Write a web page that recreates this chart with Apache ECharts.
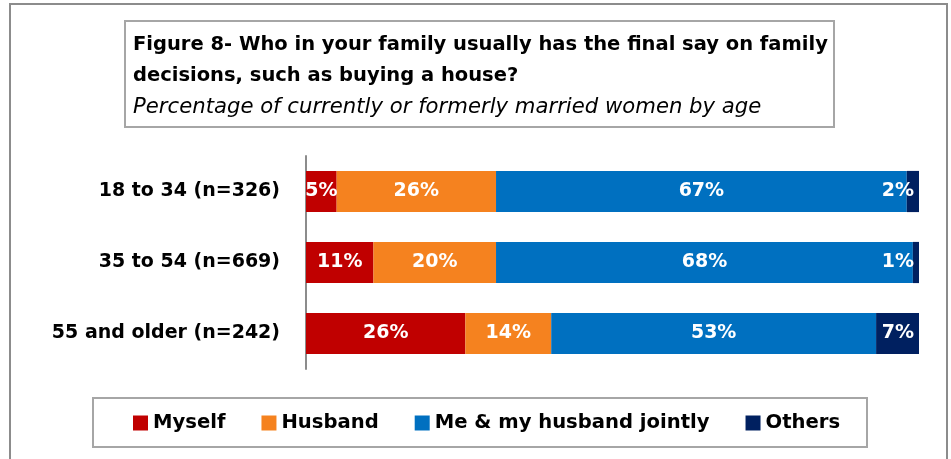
<!DOCTYPE html>
<html>
<head>
<meta charset="utf-8">
<script src="https://cdn.jsdelivr.net/npm/echarts@6/dist/echarts.min.js"></script>
<style>
  html, body { margin: 0; padding: 0; background: #fff; }
  #chart { width: 951px; height: 459px; }
</style>
</head>
<body>
<div id="chart"></div>
<script>
// age groups (top to bottom)
var categories = ["18 to 34 (n=326)", "35 to 54 (n=669)", "55 and older (n=242)"];
// share of answers, %
var myself = [5, 11, 26];
var husband = [26, 20, 14];
var jointly = [67, 68, 53];
var others = [2, 1, 7];
var seriesNames = ["Myself", "Husband", "Me & my husband jointly", "Others"];
var colorArr = ["#C00000", "#F5821F", "#0070C0", "#002060"];

var FONT = "'DejaVu Sans', sans-serif";

function makeSeries(name, data, color, pos) {
  return {
    name: name,
    type: "bar",
    stack: "total",
    barCategoryGap: "42%",
    data: data,
    itemStyle: { color: color },
    label: {
      show: true,
      position: pos || "inside",
      distance: 5,
      formatter: "{c}%",
      color: "#fff",
      fontFamily: FONT,
      fontWeight: "bold",
      fontSize: 19
    }
  };
}

var chart = echarts.init(document.getElementById("chart"));
var option = {
  animation: false,
  color: colorArr,
  graphic: [
    { type: "rect", z: -10, shape: { x: 10, y: 4, width: 937, height: 470 },
      style: { fill: "#fff", stroke: "#8c8c8c", lineWidth: 2 } },
    { type: "rect", z: -5, shape: { x: 125, y: 21, width: 709, height: 106 },
      style: { fill: "#fff", stroke: "#a6a6a6", lineWidth: 2 } },
    { type: "rect", z: -5, shape: { x: 93, y: 398, width: 774, height: 49 },
      style: { fill: "#fff", stroke: "#a6a6a6", lineWidth: 2 } }
  ],
  title: {
    text: "Figure 8- Who in your family usually has the final say on family\ndecisions, such as buying a house?",
    subtext: "Percentage of currently or formerly married women by age",
    left: 133,
    top: 29,
    padding: 0,
    itemGap: 1,
    textStyle: { fontFamily: FONT, fontWeight: "bold", fontSize: 19.5, color: "#000", lineHeight: 31 },
    subtextStyle: { fontFamily: FONT, fontStyle: "italic", fontSize: 21.2, color: "#000", lineHeight: 31 }
  },
  legend: {
    data: seriesNames,
    left: 128,
    top: 408,
    itemWidth: 15,
    itemHeight: 15,
    itemGap: 36,
    icon: "rect",
    textStyle: { fontFamily: FONT, fontWeight: "bold", fontSize: 19.6, color: "#000" }
  },
  grid: { left: 306, right: 32, top: 156, bottom: 90, containLabel: false },
  xAxis: { type: "value", min: 0, max: 100, show: false },
  yAxis: {
    type: "category",
    data: categories,
    inverse: true,
    axisLine: { lineStyle: { color: "#8c8c8c", width: 2 } },
    axisTick: { show: false },
    axisLabel: { margin: 26, fontFamily: FONT, fontWeight: "bold", fontSize: 19, color: "#000" }
  },
  series: [
    makeSeries(seriesNames[0], myself, colorArr[0]),
    makeSeries(seriesNames[1], husband, colorArr[1]),
    makeSeries(seriesNames[2], jointly, colorArr[2]),
    makeSeries(seriesNames[3], others, colorArr[3], "insideRight")
  ]
};
chart.setOption(option);
</script>
</body>
</html>
